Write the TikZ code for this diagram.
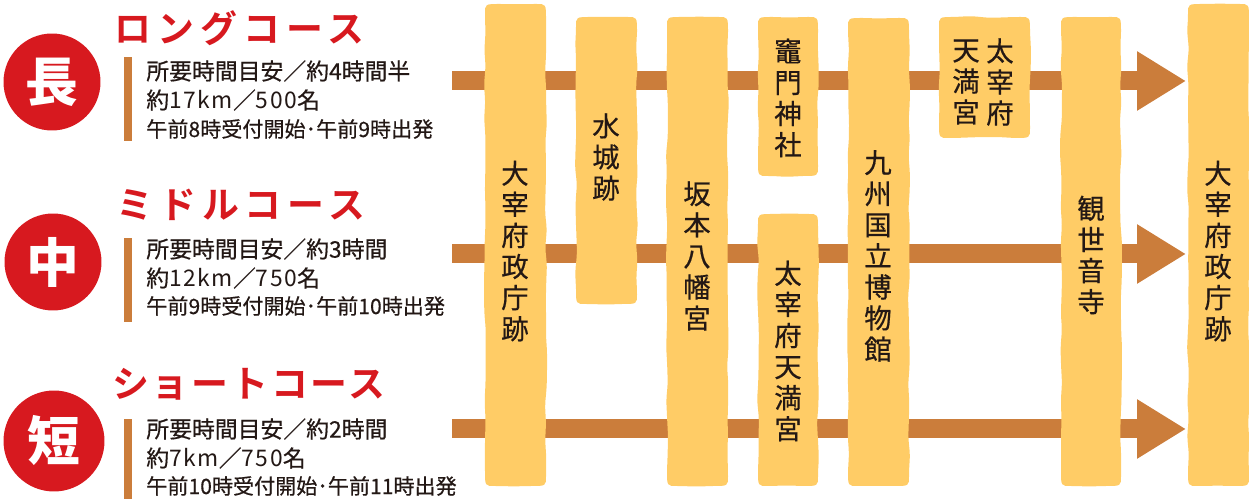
\documentclass[tikz,border=0pt]{standalone}
\usepackage{fontspec}
\usepackage{tikz}
\setmainfont{Noto Sans CJK JP}
\newfontfamily\titlefont[LetterSpace=16.5,BoldFont={Noto Sans CJK JP Bold}]{Noto Sans CJK JP}
\newfontfamily\titlefontb[LetterSpace=7.5,BoldFont={Noto Sans CJK JP Bold}]{Noto Sans CJK JP}
\newfontfamily\stopfont[FakeBold=0.5]{Noto Sans CJK JP}
\newfontfamily\widefont[LetterSpace=7]{Noto Sans CJK JP}
\definecolor{Route}{HTML}{CB7D3B}
\definecolor{Stop}{HTML}{FFCC66}
\definecolor{Badge}{HTML}{D7191F}
\definecolor{Ink}{HTML}{231815}
\usetikzlibrary{arrows.meta,decorations.pathmorphing}
\pgfdeclarelayer{background}
\pgfsetlayers{background,main}
\tikzset{
  route/.style={draw=Route,line width=0.38cm,-{Triangle[length=0.98cm,width=1.12cm]}},
  wobble/.style={decoration={random steps,segment length=10pt,amplitude=0.6pt},rounded corners=3pt},
  stoptext/.style={text=Ink,font=\stopfont\fontsize{15.6pt}{17.7pt}\selectfont,align=center,inner sep=0pt},
  badge/.style={circle,fill=Badge,text=white,inner sep=0pt,minimum size=1.94cm,font=\bfseries\fontsize{30pt}{30pt}\selectfont},
  infotext/.style={text=Ink,anchor=west,inner sep=0pt,font=\stopfont\fontsize{13pt}{14pt}\selectfont},
  smalltext/.style={text=Ink,anchor=west,inner sep=0pt,font=\stopfont\fontsize{12pt}{14pt}\selectfont},
  title/.style={text=Badge,anchor=west,inner sep=0pt,font=\titlefont\bfseries\fontsize{21pt}{22pt}\selectfont},
}
\begin{document}
\begin{tikzpicture}[x=0.02cm,y=-0.02cm]
\useasboundingbox (0,0) rectangle (1249,499);
%%background Layer
\begin{pgfonlayer}{background}
\foreach \name/\y in {long/81,mid/254,short/429}
{
\coordinate (\name start) at (452,\y);
\coordinate (\name end) at (1186,\y);
\draw[route] (\name start) -- (\name end);
}
\end{pgfonlayer}

%%stops
\foreach \xa/\ya/\xb/\yb in {
485/4/546/486,
576/17/637/304,
667/17/728/486,
758/17/818/176,
758/214/818/486,
848/18/909/486,
939/17/1030/138,
1061/17/1121/486,
1188/4/1249/486}
{\fill[Stop] (\xa+15,\ya) decorate[wobble] {-- (\xb-15,\ya)} .. controls (\xb,\ya) .. (\xb,\ya+15)
decorate[wobble] {-- (\xb,\yb-15)} .. controls (\xb,\yb) .. (\xb-15,\yb)
decorate[wobble] {-- (\xa+15,\yb)} .. controls (\xa,\yb) .. (\xa,\yb-15)
decorate[wobble] {-- (\xa,\ya+15)} .. controls (\xa,\ya) .. (\xa+15,\ya) -- cycle;
}
\node[stoptext] (start) at (515,251) {大\\宰\\府\\政\\庁\\跡};
\node[stoptext] (mizuki) at (606,157) {水\\城\\跡};
\node[stoptext] (sakamoto) at (697,256) {坂\\本\\八\\幡\\宮};
\node[stoptext] (kamado) at (788,98) {竈\\門\\神\\社};
\node[stoptext] (tenmangu) at (788,351) {太\\宰\\府\\天\\満\\宮};
\node[stoptext] (museum) at (878,256) {九\\州\\国\\立\\博\\物\\館};
\node[stoptext] (tenmanguright) at (1000,82) {太\\宰\\府};
\node[stoptext] (tenmanguleft) at (966,82) {天\\満\\宮};
\node[stoptext] (kanzeon) at (1091,255) {観\\世\\音\\寺};
\node[stoptext] (goal) at (1218,251) {大\\宰\\府\\政\\庁\\跡};

%%courses
\node[badge] (longbadge) at (52,82) {長};
\node[badge] (midbadge) at (53,262) {中};
\node[badge,minimum size=2.02cm] (shortbadge) at (54,441) {短};

\node[title] (longtitle) at (114,28) {ロングコース};
\node[title] (midtitle) at (116,205) {ミドルコース};
\node[title,font=\titlefontb\bfseries\fontsize{21pt}{22pt}\selectfont] (shorttitle) at (112,384) {ショートコース};

\foreach \ya/\yb in {57/141,238/322,419/499}
{\fill[Route] (124,\ya) rectangle (132,\yb);
}

\node[infotext] (longa) at (146,71) {所要時間目安／約4時間半};
\node[infotext] (longb) at (146,100) {約{\widefont 17km}／{\widefont 500}名};
\node[smalltext] (longc) at (146,129) {午前8時受付開始･午前9時出発};
\node[infotext] (mida) at (146,249) {所要時間目安／約3時間};
\node[infotext] (midb) at (146,278) {約{\widefont 12km}／{\widefont 750}名};
\node[smalltext] (midc) at (146,306) {午前9時受付開始･午前10時出発};
\node[infotext] (shorta) at (146,429) {所要時間目安／約2時間};
\node[infotext] (shortb) at (146,458) {約{\widefont 7km}／{\widefont 750}名};
\node[smalltext] (shortc) at (146,486) {午前10時受付開始･午前11時出発};
\end{tikzpicture}
\end{document}
